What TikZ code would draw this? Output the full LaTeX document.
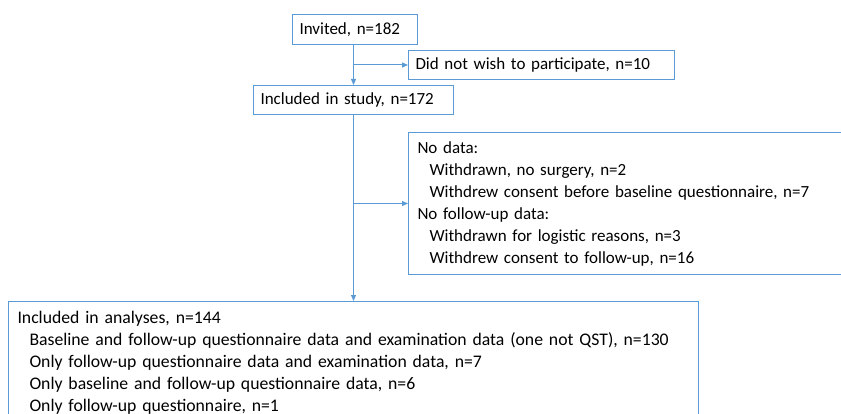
\documentclass[tikz,border=0pt]{standalone}
\usepackage{fontspec}
\setmainfont{Carlito}
\usetikzlibrary{arrows.meta}
\definecolor{flowblue}{HTML}{5B9BD5}
\newcommand{\ind}{\hspace*{12pt}}
\tikzset{
  flowbox/.style={draw=flowblue, line width=1pt, anchor=north west, align=left,
    inner xsep=7pt, inner ysep=0pt, font=\fontsize{17}{22}\selectfont},
  flowarrow/.style={draw=flowblue, line width=1pt, -{Triangle[length=6pt,width=5pt]}}
}
\begin{document}
\begin{tikzpicture}[x=1pt, y=-1pt]
      \useasboundingbox (0,0) rectangle (841,414);
      \clip (0,0) rectangle (841,414);
      % boxes
      \node [flowbox, text width=111pt, minimum height=30pt] (invited) at (292,14) {Invited, n=182};
      \node [flowbox, text width=252pt, minimum height=29pt] (nowish) at (408,50) {Did not wish to participate, n=10};
      \node [flowbox, text width=186pt, minimum height=29pt] (study) at (253,85) {Included in study, n=172};
      \node [flowbox, text width=442pt, minimum height=142pt, inner xsep=9pt] (nodata) at (408,132)
        {No data:\\
         \ind Withdrawn, no surgery, n=2\\
         \ind Withdrew consent before baseline questionnaire, n=7\\
         No follow-up data:\\
         \ind Withdrawn for logistic reasons, n=3\\
         \ind Withdrew consent to follow-up, n=16};
      \node [flowbox, text width=672pt, minimum height=122pt, inner xsep=9pt,
        font=\fontsize{17.7}{22}\selectfont] (analyses) at (8,301)
        {Included in analyses, n=144\\
         \ind Baseline and follow-up questionnaire data and examination data (one not QST), n=130\\
         \ind Only follow-up questionnaire data and examination data, n=7\\
         \ind Only baseline and follow-up questionnaire data, n=6\\
         \ind Only follow-up questionnaire, n=1};
      % connectors
      \coordinate (split1) at (study.north |- nowish.west);
      \coordinate (split2) at (study.south |- nodata.west);
      \draw [flowarrow] (study.north |- invited.south) -- (study.north);
      \draw [flowarrow] (split1) -- (nowish.west);
      \draw [flowarrow] (study.south) -- (study.south |- analyses.north);
      \draw [flowarrow] (split2) -- (nodata.west);
\end{tikzpicture}
\end{document}
